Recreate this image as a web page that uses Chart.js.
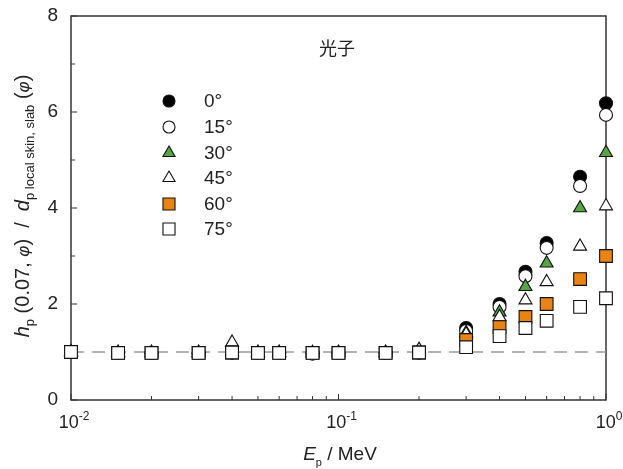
<!DOCTYPE html>
<html>
<head>
<meta charset="utf-8">
<script src="https://cdn.jsdelivr.net/npm/chart.js@4"></script>
<style>
  body { margin: 0; background: #fff; }
  canvas { display: block; }
</style>
</head>
<body>
<canvas id="chart" width="623" height="469"></canvas>
<script>
// photon energies (MeV)
var energies = [0.01, 0.015, 0.02, 0.03, 0.04, 0.05, 0.06, 0.08, 0.1, 0.15, 0.2, 0.3, 0.4, 0.5, 0.6, 0.8, 1.0];
var angleLabels = ['0°', '15°', '30°', '45°', '60°', '75°'];

var ratio0  = [1.0, 0.98, 0.98, 0.98, 0.99, 0.98, 0.98, 0.97, 0.98, 0.98, 0.99, 1.50, 2.00, 2.67, 3.27, 4.65, 6.18];
var ratio15 = [1.0, 0.98, 0.98, 0.98, 0.99, 0.98, 0.98, 0.97, 0.98, 0.98, 0.99, 1.44, 1.94, 2.58, 3.17, 4.46, 5.94];
var ratio30 = [1.0, 0.98, 0.98, 0.98, 1.00, 0.98, 0.98, 0.98, 0.98, 0.98, 1.00, 1.40, 1.83, 2.36, 2.85, 4.00, 5.15];
var ratio45 = [1.0, 0.99, 0.99, 0.99, 1.20, 0.99, 0.99, 0.98, 0.99, 0.99, 1.05, 1.37, 1.73, 2.08, 2.46, 3.20, 4.04];
var ratio60 = [1.0, 0.98, 0.98, 0.98, 0.99, 0.98, 0.98, 0.98, 0.98, 0.98, 0.99, 1.25, 1.52, 1.73, 2.00, 2.52, 3.00];
var ratio75 = [1.0, 0.98, 0.98, 0.98, 0.99, 0.98, 0.98, 0.98, 0.98, 0.98, 0.99, 1.10, 1.33, 1.50, 1.65, 1.94, 2.12];

var refX = [0.01, 1];
var refY = [1, 1];

var yMajorTicks = [0, 2, 4, 6, 8];
var yMinorTicks = [1, 3, 5, 7];
var xMajorTicks = [0.01, 0.1, 1];
var xMajorExp = ['-2', '-1', '0'];
var xMinorTicks = [0.02, 0.03, 0.04, 0.05, 0.06, 0.07, 0.08, 0.09, 0.2, 0.3, 0.4, 0.5, 0.6, 0.7, 0.8, 0.9];

var GREEN = '#55a544';
var ORANGE = '#e98414';
var FONT = '"Liberation Sans", Arial, sans-serif';

function pts(ys) {
    return energies.map(function (e, i) { return { x: e, y: ys[i] }; });
}

var styles = [
    { style: 'circle', fill: '#000', r: 6.5 },
    { style: 'circle', fill: '#fff', r: 6.5 },
    { style: 'triangle', fill: GREEN, r: 7.5 },
    { style: 'triangle', fill: '#fff', r: 7.5 },
    { style: 'rect', fill: ORANGE, r: 9 },
    { style: 'rect', fill: '#fff', r: 9 }
];
var series = [ratio0, ratio15, ratio30, ratio45, ratio60, ratio75];

var datasets = series.map(function (s, i) {
    return {
        label: angleLabels[i],
        data: pts(s),
        showLine: false,
        clip: false,
        pointStyle: styles[i].style,
        pointRadius: styles[i].r,
        pointBackgroundColor: styles[i].fill,
        pointBorderColor: '#111',
        pointBorderWidth: 1.1,
        order: 5 - i
    };
});
datasets.push({
    label: 'ref',
    data: refX.map(function (x, i) { return { x: x, y: refY[i] }; }),
    showLine: true,
    borderColor: '#9a9a9a',
    borderWidth: 1.5,
    borderDash: [13, 8],
    pointRadius: 0,
    order: 10
});

function drawRuns(ctx, runs, x, y) {
    // runs: [text, font, dy]
    var total = 0;
    runs.forEach(function (r) { ctx.font = r[1]; total += ctx.measureText(r[0]).width; });
    var cx = x - total / 2;
    runs.forEach(function (r) {
        ctx.font = r[1];
        ctx.fillText(r[0], cx, y + (r[2] || 0));
        cx += ctx.measureText(r[0]).width;
    });
}

var decor = {
    id: 'decor',
    beforeDatasetsDraw: function (chart) {
        var ctx = chart.ctx, a = chart.chartArea;
        var xs = chart.scales.x, ys = chart.scales.y;
        ctx.save();
        ctx.strokeStyle = '#333';
        ctx.lineWidth = 1.5;
        ctx.strokeRect(a.left, a.top, a.right - a.left, a.bottom - a.top);
        ctx.lineWidth = 1;
        ctx.beginPath();
        yMajorTicks.forEach(function (v) {
            var p = ys.getPixelForValue(v);
            ctx.moveTo(a.left, p); ctx.lineTo(a.left + 6, p);
        });
        yMinorTicks.forEach(function (v) {
            var p = ys.getPixelForValue(v);
            ctx.moveTo(a.left, p); ctx.lineTo(a.left + 4, p);
        });
        xMajorTicks.forEach(function (v) {
            var p = xs.getPixelForValue(v);
            ctx.moveTo(p, a.bottom); ctx.lineTo(p, a.bottom - 6);
        });
        xMinorTicks.forEach(function (v) {
            var p = xs.getPixelForValue(v);
            ctx.moveTo(p, a.bottom); ctx.lineTo(p, a.bottom - 4);
        });
        ctx.stroke();
        ctx.restore();
    },
    afterDraw: function (chart) {
        var ctx = chart.ctx, a = chart.chartArea;
        var xs = chart.scales.x, ys = chart.scales.y;
        ctx.save();
        ctx.fillStyle = '#222';

        // y tick labels
        ctx.font = '19px ' + FONT;
        ctx.textAlign = 'right';
        ctx.textBaseline = 'middle';
        yMajorTicks.forEach(function (v) {
            ctx.fillText(String(v), a.left - 13, ys.getPixelForValue(v));
        });

        // x tick labels 10^n
        ctx.textAlign = 'left';
        ctx.textBaseline = 'alphabetic';
        xMajorTicks.forEach(function (v, i) {
            var p = xs.getPixelForValue(v);
            drawRuns(ctx, [['10', '18px ' + FONT, 0], [xMajorExp[i], '12px ' + FONT, -8]], p + 3, 428);
        });

        // x title
        drawRuns(ctx, [
            ['E', 'italic 19px ' + FONT, 0],
            ['p', '11px ' + FONT, 6],
            [' / MeV', '19px ' + FONT, 0]
        ], 340, 460);

        // y title
        ctx.save();
        ctx.translate(29, 206);
        ctx.rotate(-Math.PI / 2);
        var big = '20px ' + FONT, it = 'italic 20px ' + FONT, sub = '13px ' + FONT;
        drawRuns(ctx, [
            ['h', it, 0], ['p', sub, 5], [' (0.07, ', big, 0], ['φ', 'italic 17px ' + FONT, 0], [')  /  ', big, 0],
            ['d', it, 0], ['p local skin, slab', sub, 5], [' (', big, 0], ['φ', 'italic 17px ' + FONT, 0], [')', big, 0]
        ], 0, 0);
        ctx.restore();

        // title
        ctx.font = '18px "Noto Sans CJK SC", sans-serif';
        ctx.textAlign = 'center';
        ctx.textBaseline = 'middle';
        ctx.fillText('光子', 337, 48);

        // legend
        var rowY = [101, 127, 153, 178, 204, 229];
        var legR = [6, 6, 7, 7, 8.5, 8.5];
        angleLabels.forEach(function (lab, i) {
            ctx.fillStyle = styles[i].fill;
            ctx.strokeStyle = '#111';
            ctx.lineWidth = 1.1;
            Chart.helpers.drawPoint(ctx, { pointStyle: styles[i].style, radius: legR[i], borderWidth: 1.1 }, 169, rowY[i]);
            ctx.fillStyle = '#222';
            ctx.font = '19px ' + FONT;
            ctx.textAlign = 'left';
            ctx.fillText(lab, 204, rowY[i] + 1);
        });
        ctx.restore();
    }
};

new Chart(document.getElementById('chart'), {
    type: 'scatter',
    data: { datasets: datasets },
    options: {
        responsive: false,
        animation: false,
        layout: { padding: { left: 0, top: 16, right: 17, bottom: 0 } },
        plugins: { legend: { display: false }, tooltip: { enabled: false } },
        scales: {
            x: {
                type: 'logarithmic',
                min: 0.01,
                max: 1,
                grid: { display: false },
                border: { display: false },
                ticks: { display: false },
                afterFit: function (s) { s.height = 69; }
            },
            y: {
                min: 0,
                max: 8,
                grid: { display: false },
                border: { display: false },
                ticks: { display: false },
                afterFit: function (s) { s.width = 71; }
            }
        }
    },
    plugins: [decor]
});
</script>
</body>
</html>
